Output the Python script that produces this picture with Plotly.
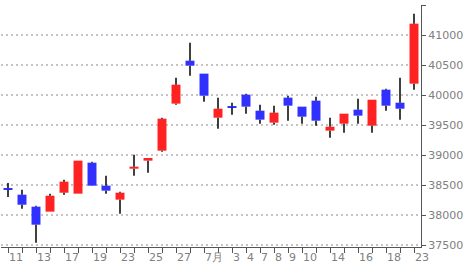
import plotly.graph_objects as go

# Trading days (index 0..29) and tick labels shown on the x axis
tick_labels = ["11", "", "13", "", "17", "", "19", "", "23", "", "25", "", "27", "", "7月",
               "", "3", "4", "7", "8", "9", "10", "", "14", "", "16", "", "18", "", "23"]

open_ = [38450, 38339, 38139, 38056, 38372, 38356, 38872, 38489, 38256, 38772,
         38906, 39072, 39856, 40572, 40356, 39622, 39815, 40006, 39739, 39539,
         39956, 39806, 39906, 39406, 39522, 39756, 39489, 40089, 39872, 40189]
high_ = [38533, 38422, 38156, 38356, 38589, 38906, 38889, 38656, 38389, 39006,
         38950, 39622, 40289, 40872, 40356, 39956, 39872, 40022, 39839, 39822,
         39989, 39806, 39972, 39622, 39689, 39939, 39922, 40106, 40289, 41356]
low_ = [38300, 38106, 37539, 38056, 38339, 38356, 38489, 38356, 38022, 38656,
        38706, 39056, 39839, 40322, 39889, 39439, 39672, 39689, 39522, 39506,
        39572, 39522, 39489, 39289, 39372, 39522, 39372, 39739, 39589, 40089]
close_ = [38420, 38172, 37839, 38322, 38556, 38906, 38489, 38406, 38372, 38806,
          38950, 39606, 40172, 40489, 39989, 39772, 39790, 39806, 39589, 39706,
          39822, 39639, 39572, 39472, 39689, 39656, 39922, 39822, 39772, 41189]

n = len(tick_labels)
idx = list(range(n))
UP, DOWN = "#ff2222", "#3030ff"
colors = [UP if c >= o else DOWN for o, c in zip(open_, close_)]

# wicks: upper and lower shadows only (not through the body)
wx, wy = [], []
for i, (o, h, l, c) in enumerate(zip(open_, high_, low_, close_)):
    top, bot = max(o, c), min(o, c)
    if h > top:
        wx += [i, i, None]
        wy += [top, h, None]
    if l < bot:
        wx += [i, i, None]
        wy += [l, bot, None]

fig = go.Figure()
fig.add_trace(go.Bar(x=idx, base=open_, y=[c - o for o, c in zip(open_, close_)],
                     marker=dict(color=colors, line=dict(width=0)),
                     width=0.64, showlegend=False))
fig.add_trace(go.Scatter(x=wx, y=wy, mode="lines",
                         line=dict(color="#000000", width=1.5),
                         hoverinfo="skip", showlegend=False))

tick_font = dict(family="DejaVu Sans", size=11, color="#808080")
fig.update_layout(
    width=470, height=278,
    margin=dict(l=1, r=49, t=5, b=31),
    paper_bgcolor="white", plot_bgcolor="white",
    showlegend=False,
    xaxis=dict(range=[-0.5, n - 0.5], showgrid=False, zeroline=False,
               showline=True, linecolor="#555555", linewidth=1,
               ticks="outside", ticklen=5, tickcolor="#555555",
               tickvals=idx, ticktext=tick_labels, tickangle=0,
               ticklabelposition="outside right", tickfont=tick_font),
    yaxis=dict(range=[37467, 41500], side="right", zeroline=False,
               tickvals=list(range(37500, 41501, 500)), tickformat="d",
               showgrid=True, gridcolor="#c4c4c4", gridwidth=1.5, griddash="1.5px,3.5px",
               showline=True, linecolor="#555555", linewidth=1,
               ticks="outside", ticklen=4, tickcolor="#555555",
               tickfont=tick_font),
)

fig.write_html("out.html")
